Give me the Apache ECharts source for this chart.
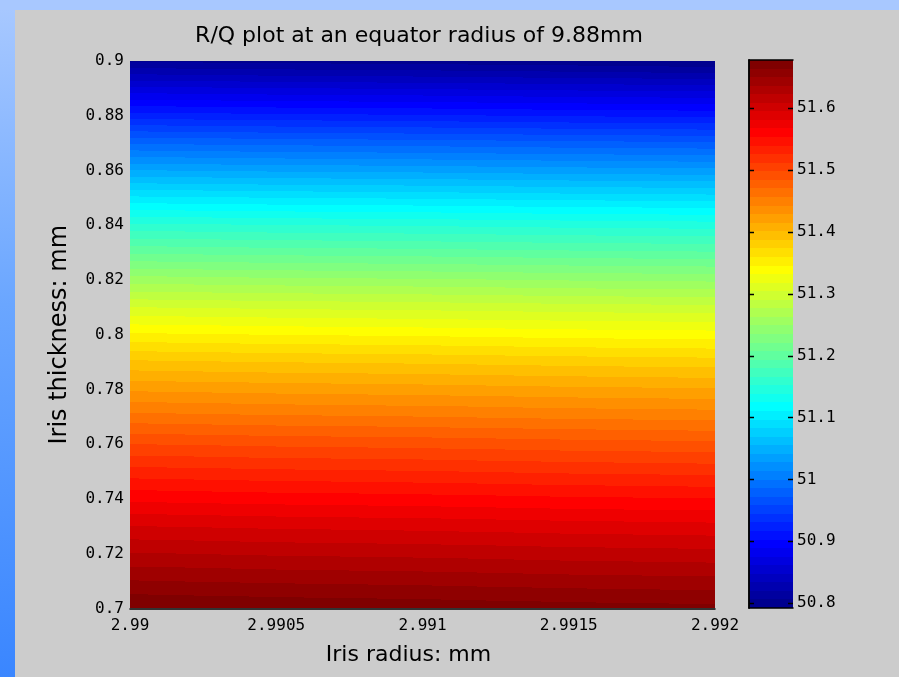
<!DOCTYPE html>
<html>
<head>
<meta charset="utf-8">
<title>R/Q plot</title>
<script src="https://cdn.jsdelivr.net/npm/echarts@6/dist/echarts.min.js"></script>
<style>
  html, body { margin: 0; padding: 0; }
  #chart { width: 899px; height: 677px; }
</style>
</head>
<body>
<div id="chart"></div>
<script>
// Iris radius grid nodes (mm)
const irisRadius = [2.99, 2.9905, 2.991, 2.9915, 2.992];
// Iris thickness grid nodes (mm), bottom to top
const irisThickness = [0.70, 0.71, 0.72, 0.73, 0.74, 0.75, 0.76, 0.77, 0.78, 0.79, 0.80,
                       0.81, 0.82, 0.83, 0.84, 0.85, 0.86, 0.87, 0.88, 0.89, 0.90];

// R/Q values along each iris-radius column, one per thickness node
const rq_2990  = [51.678, 51.651, 51.624, 51.595, 51.564, 51.532, 51.498, 51.462, 51.426, 51.390, 51.349,
                  51.304, 51.256, 51.206, 51.155, 51.100, 51.043, 50.984, 50.924, 50.864, 50.804];
const rq_29905 = [51.675, 51.648, 51.621, 51.592, 51.561, 51.529, 51.495, 51.459, 51.423, 51.387, 51.346,
                  51.301, 51.253, 51.203, 51.152, 51.097, 51.040, 50.981, 50.921, 50.861, 50.801];
const rq_2991  = [51.673, 51.646, 51.619, 51.590, 51.559, 51.527, 51.493, 51.457, 51.421, 51.385, 51.344,
                  51.299, 51.251, 51.201, 51.150, 51.095, 51.038, 50.979, 50.919, 50.859, 50.799];
const rq_29915 = [51.670, 51.643, 51.616, 51.587, 51.556, 51.524, 51.490, 51.454, 51.418, 51.382, 51.341,
                  51.296, 51.248, 51.198, 51.147, 51.092, 51.035, 50.976, 50.916, 50.856, 50.796];
const rq_2992  = [51.668, 51.641, 51.614, 51.585, 51.554, 51.522, 51.488, 51.452, 51.416, 51.380, 51.339,
                  51.294, 51.246, 51.196, 51.145, 51.090, 51.033, 50.974, 50.914, 50.854, 50.792];

// Tick labels
const radiusTicks = [2.99, 2.9905, 2.991, 2.9915, 2.992];
const thicknessTicks = [0.7, 0.72, 0.74, 0.76, 0.78, 0.8, 0.82, 0.84, 0.86, 0.88, 0.9];
const colorbarTicks = [50.8, 50.9, 51, 51.1, 51.2, 51.3, 51.4, 51.5, 51.6];

const columns = [rq_2990, rq_29905, rq_2991, rq_29915, rq_2992];

// Colour limits follow the data range
const allValues = [].concat(...columns);
const cmin = Math.min(...allValues);
const cmax = Math.max(...allValues);

// 64-entry jet colormap
function jetColormap(m) {
  const n = Math.ceil(m / 4);
  const u = [];
  for (let i = 1; i <= n; i++) u.push(i / n);
  for (let i = 0; i < n - 1; i++) u.push(1);
  for (let i = n; i >= 1; i--) u.push(i / n);
  const g0 = Math.ceil(n / 2) - (m % 4 === 1 ? 1 : 0);
  const r = new Array(m).fill(0), g = new Array(m).fill(0), b = new Array(m).fill(0);
  for (let k = 0; k < u.length; k++) {
    const gi = g0 + k;       // 0-based
    const ri = gi + n;
    const bi = gi - n;
    if (gi >= 0 && gi < m) g[gi] = u[k];
    if (ri >= 0 && ri < m) r[ri] = u[k];
    if (bi >= 0 && bi < m) b[bi] = u[k];
  }
  const out = [];
  for (let k = 0; k < m; k++) {
    out.push('rgb(' + Math.round(r[k] * 255) + ',' + Math.round(g[k] * 255) + ',' + Math.round(b[k] * 255) + ')');
  }
  return out;
}
const NLEV = 64;
const jet = jetColormap(NLEV);
const step = (cmax - cmin) / NLEV;
function levelOf(v) {
  return Math.max(0, Math.min(NLEV - 1, Math.floor((v - cmin) / step)));
}
function levelEdge(k) {
  return cmin + k * step;
}

// Vertical hard-edged gradient: vTop at offset 0, vBot at offset 1 (vBot >= vTop here)
function bandGradient(vTop, vBot) {
  const kTop = levelOf(vTop), kBot = levelOf(vBot);
  const stops = [{ offset: 0, color: jet[kTop] }];
  for (let k = kTop + 1; k <= kBot; k++) {
    const o = (levelEdge(k) - vTop) / (vBot - vTop);
    stops.push({ offset: o, color: jet[k - 1] }, { offset: o, color: jet[k] });
  }
  stops.push({ offset: 1, color: jet[kBot] });
  return new echarts.graphic.LinearGradient(0, 0, 0, 1, stops);
}

// One surface patch per grid cell: [x0, y0, columnIndex, rowIndex]
const patches = [];
for (let i = 0; i < irisRadius.length - 1; i++) {
  for (let j = 0; j < irisThickness.length - 1; j++) {
    patches.push([irisRadius[i], irisThickness[j], i, j]);
  }
}

const STRIPS = 16;
function renderPatch(params, api) {
  const i = api.value(2), j = api.value(3);
  const bl = columns[i][j], br = columns[i + 1][j];
  const tl = columns[i][j + 1], tr = columns[i + 1][j + 1];
  const pTL = api.coord([irisRadius[i], irisThickness[j + 1]]);
  const pBR = api.coord([irisRadius[i + 1], irisThickness[j]]);
  const yTop = Math.round(pTL[1]);
  const yBot = Math.round(pBR[1]);
  const children = [];
  for (let s = 0; s < STRIPS; s++) {
    const xa = Math.round(pTL[0] + (pBR[0] - pTL[0]) * s / STRIPS);
    const xb = Math.round(pTL[0] + (pBR[0] - pTL[0]) * (s + 1) / STRIPS);
    const f = (s + 0.5) / STRIPS;
    const vTop = tl + (tr - tl) * f;
    const vBot = bl + (br - bl) * f;
    children.push({
      type: 'rect',
      shape: { x: xa, y: yTop, width: xb - xa, height: yBot - yTop },
      style: { fill: bandGradient(vTop, vBot) },
      silent: true
    });
  }
  return { type: 'group', children: children };
}

// Colour bar bands, one per colormap level
const colorbarBands = [];
for (let k = 0; k < NLEV; k++) colorbarBands.push([0.5, levelEdge(k) + step / 2, k]);

function renderBand(params, api) {
  const k = api.value(2);
  const pTop = api.coord([0, levelEdge(k + 1)]);
  const pBot = api.coord([1, levelEdge(k)]);
  const yTop = Math.round(pTop[1]), yBot = Math.round(pBot[1]);
  return {
    type: 'rect',
    shape: { x: pTop[0], y: yTop, width: pBot[0] - pTop[0], height: yBot - yTop },
    style: { fill: jet[k] },
    silent: true
  };
}

// Inward tick marks on both edges of the colour bar
function renderColorbarTick(params, api) {
  const v = api.value(1);
  const pL = api.coord([0, v]);
  const pR = api.coord([1, v]);
  const y = Math.round(pL[1]) + 0.5;
  const line = (x1, x2) => ({
    type: 'line',
    shape: { x1: x1, y1: y, x2: x2, y2: y },
    style: { stroke: '#000', lineWidth: 1.5 },
    silent: true
  });
  return { type: 'group', children: [line(pL[0], pL[0] + 5), line(pR[0] - 5, pR[0])] };
}

const monoLabel = { fontFamily: 'DejaVu Sans Mono', fontSize: 16, color: '#000' };

const chart = echarts.init(document.getElementById('chart'), null, { renderer: 'canvas' });
chart.setOption({
  animation: false,
  backgroundColor: 'transparent',
  graphic: [
    {
      type: 'rect', z: -10, silent: true,
      shape: { x: 0, y: 0, width: 899, height: 677 },
      style: { fill: new echarts.graphic.LinearGradient(0, 0, 0, 1, [
        { offset: 0, color: '#a9c9ff' }, { offset: 0.45, color: '#6aa6ff' }, { offset: 1, color: '#3a86ff' }
      ]) }
    },
    { type: 'rect', z: -9, silent: true, shape: { x: 0, y: 0, width: 899, height: 10 }, style: { fill: '#a8c8ff' } },
    { type: 'rect', z: -8, silent: true, shape: { x: 15, y: 10, width: 884, height: 667 }, style: { fill: '#cccccc' } }
  ],
  title: {
    text: 'R/Q plot at an equator radius of 9.88mm',
    left: 414,
    top: 20,
    textAlign: 'center',
    textStyle: { fontFamily: 'DejaVu Sans', fontSize: 22, fontWeight: 'normal', color: '#000' }
  },
  grid: [
    { left: 130, top: 61, width: 585, height: 547.5, containLabel: false },
    { left: 749, top: 60, width: 44, height: 548, containLabel: false }
  ],
  xAxis: [
    {
      gridIndex: 0, type: 'value', min: 2.99, max: 2.992, interval: 0.0005, z: 5,
      name: 'Iris radius: mm', nameLocation: 'middle', nameGap: 36,
      nameTextStyle: { fontFamily: 'DejaVu Sans', fontSize: 22, color: '#000', padding: [0, 28, 0, 0] },
      axisLine: { show: true, lineStyle: { color: '#000', width: 1.5 } },
      axisTick: { show: false },
      axisLabel: Object.assign({ margin: 9, customValues: radiusTicks, showMinLabel: true, showMaxLabel: true,
        formatter: v => String(+v.toFixed(4)) }, monoLabel),
      splitLine: { show: false }
    },
    {
      gridIndex: 1, type: 'value', min: 0, max: 1, position: 'bottom', z: 5,
      axisLine: { show: true, lineStyle: { color: '#000', width: 1.5 } },
      axisTick: { show: false }, axisLabel: { show: false }, splitLine: { show: false }
    },
    {
      gridIndex: 1, type: 'value', min: 0, max: 1, position: 'top', z: 5,
      axisLine: { show: true, lineStyle: { color: '#000', width: 1.5 } },
      axisTick: { show: false }, axisLabel: { show: false }, splitLine: { show: false }
    }
  ],
  yAxis: [
    {
      gridIndex: 0, type: 'value', min: 0.7, max: 0.9, interval: 0.02,
      name: 'Iris thickness: mm', nameLocation: 'middle', nameGap: 58, nameRotate: 90,
      nameTextStyle: { fontFamily: 'DejaVu Sans', fontSize: 24, color: '#000' },
      axisLine: { show: false },
      axisTick: { show: false },
      axisLabel: Object.assign({ margin: 6, customValues: thicknessTicks, showMinLabel: true, showMaxLabel: true,
        formatter: v => String(+v.toFixed(3)) }, monoLabel),
      splitLine: { show: false }
    },
    {
      gridIndex: 1, type: 'value', min: cmin, max: cmax, position: 'right', z: 5,
      axisLine: { show: true, lineStyle: { color: '#000', width: 1.5 } },
      axisTick: { show: false },
      axisLabel: Object.assign({ margin: 4, customValues: colorbarTicks, showMinLabel: true, showMaxLabel: true,
        formatter: v => String(+v.toFixed(2)) }, monoLabel),
      splitLine: { show: false }
    },
    {
      gridIndex: 1, type: 'value', min: cmin, max: cmax, position: 'left', z: 5,
      axisLine: { show: true, lineStyle: { color: '#000', width: 1.5 } },
      axisTick: { show: false },
      axisLabel: { show: false },
      splitLine: { show: false }
    }
  ],
  series: [
    {
      type: 'custom', xAxisIndex: 0, yAxisIndex: 0,
      data: patches, encode: { x: 0, y: 1 },
      renderItem: renderPatch, silent: true
    },
    {
      type: 'custom', xAxisIndex: 1, yAxisIndex: 1,
      data: colorbarBands, encode: { x: 0, y: 1 },
      renderItem: renderBand, silent: true
    },
    {
      type: 'custom', xAxisIndex: 1, yAxisIndex: 1, z: 6,
      data: colorbarTicks.map(v => [0.5, v]), encode: { x: 0, y: 1 },
      renderItem: renderColorbarTick, silent: true
    }
  ]
});
</script>
</body>
</html>
